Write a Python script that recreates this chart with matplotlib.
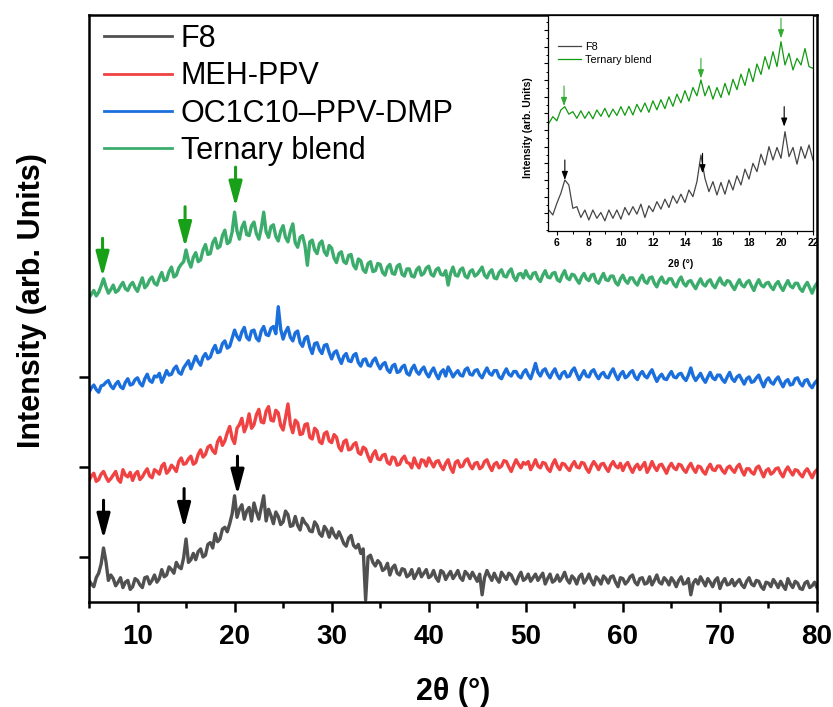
import numpy as np
import matplotlib
matplotlib.use('Agg')
import matplotlib.pyplot as plt
from matplotlib.ticker import MultipleLocator

plt.rcParams['font.family'] = ['Liberation Sans', 'DejaVu Sans']

# main panel: 2theta grid (0.25 deg steps), one row = 5 deg
two_theta = np.arange(5.0, 80.1, 0.25)

f8 = [74, 70, 67, 77, 82, 92, 110, 95, 74, 80, 76, 68, 72, 77, 66, 72, 74, 64, 67, 76,
      74, 69, 66, 77, 78, 70, 74, 80, 72, 76, 86, 78, 80, 89, 86, 82, 94, 89, 87, 99,
      120, 94, 97, 104, 97, 106, 109, 100, 102, 114, 116, 110, 126, 117, 120, 131, 133, 128, 137, 148,
      168, 144, 153, 158, 142, 151, 155, 140, 160, 150, 142, 155, 168, 140, 153, 146, 137, 150, 145, 136,
      139, 151, 147, 134, 135, 145, 135, 130, 143, 138, 135, 129, 128, 139, 135, 126, 123, 134, 130, 122,
      132, 125, 121, 128, 122, 115, 112, 121, 124, 113, 110, 114, 104, 109, 52, 100, 102, 94, 90, 96,
      93, 85, 87, 93, 80, 88, 91, 82, 80, 87, 86, 78, 80, 86, 76, 81, 87, 78, 82, 86,
      77, 79, 85, 77, 73, 85, 83, 75, 80, 84, 76, 80, 85, 77, 74, 84, 81, 76, 83, 78,
      73, 81, 58, 77, 85, 79, 74, 82, 76, 72, 83, 79, 75, 82, 80, 74, 70, 78, 83, 74,
      76, 81, 73, 77, 81, 74, 78, 82, 70, 76, 81, 72, 74, 80, 73, 77, 83, 75, 71, 79,
      76, 70, 78, 81, 71, 75, 81, 74, 69, 78, 75, 70, 79, 76, 71, 78, 79, 72, 67, 77,
      76, 70, 73, 78, 80, 72, 69, 76, 77, 70, 71, 78, 69, 74, 80, 72, 70, 77, 74, 69,
      77, 73, 67, 74, 78, 70, 71, 76, 58, 71, 75, 70, 78, 73, 68, 76, 72, 67, 74, 77,
      65, 72, 76, 69, 70, 75, 68, 72, 75, 69, 66, 73, 77, 70, 68, 74, 73, 67, 64, 72,
      71, 67, 75, 71, 66, 73, 68, 64, 76, 70, 66, 73, 71, 65, 64, 71, 73, 66, 68, 72,
      66]

meh_ppv = [185, 190, 193, 184, 186, 192, 195, 189, 184, 187, 191, 195, 186, 183, 197, 191, 189, 194, 185, 192,
           195, 186, 189, 194, 198, 190, 188, 197, 195, 192, 201, 204, 193, 196, 202, 199, 195, 206, 210, 203,
           204, 209, 212, 203, 205, 214, 219, 211, 214, 222, 224, 218, 215, 228, 233, 224, 229, 238, 245, 232,
           226, 243, 247, 254, 239, 246, 259, 243, 247, 258, 264, 250, 249, 262, 267, 252, 251, 263, 260, 246,
           241, 255, 270, 247, 238, 252, 249, 236, 237, 247, 248, 233, 231, 243, 240, 228, 226, 237, 239, 229,
           227, 236, 233, 222, 218, 228, 230, 219, 220, 225, 227, 216, 214, 222, 220, 212, 206, 214, 218, 209,
           208, 213, 214, 205, 203, 211, 210, 202, 203, 209, 212, 205, 204, 199, 210, 203, 199, 208, 207, 201,
           210, 205, 200, 206, 207, 201, 197, 204, 208, 199, 194, 205, 207, 200, 201, 207, 209, 202, 198, 204,
           205, 198, 200, 206, 208, 201, 196, 203, 205, 199, 201, 207, 206, 200, 195, 202, 208, 203, 199, 205,
           203, 206, 197, 202, 208, 201, 199, 205, 204, 198, 195, 203, 208, 201, 197, 204, 203, 199, 196, 202,
           206, 200, 199, 205, 204, 198, 194, 201, 206, 202, 197, 203, 204, 199, 195, 202, 206, 201, 199, 204,
           196, 202, 205, 199, 194, 200, 203, 197, 201, 205, 194, 199, 206, 200, 196, 202, 203, 198, 193, 200,
           204, 199, 197, 203, 202, 197, 194, 200, 204, 198, 194, 201, 200, 195, 192, 199, 203, 197, 196, 201,
           201, 196, 193, 199, 201, 197, 194, 200, 203, 196, 191, 198, 198, 194, 192, 199, 201, 195, 189, 196,
           198, 192, 194, 198, 199, 193, 189, 196, 200, 195, 191, 197, 196, 192, 189, 195, 198, 193, 188, 194,
           197]

oc1c10 = [283, 288, 291, 286, 283, 290, 291, 294, 296, 290, 287, 292, 295, 289, 287, 294, 298, 291, 292, 297,
          299, 293, 290, 298, 303, 296, 294, 301, 300, 304, 294, 300, 307, 302, 303, 309, 312, 305, 303, 310,
          314, 318, 309, 316, 323, 317, 313, 322, 326, 320, 322, 330, 335, 327, 328, 337, 340, 332, 334, 343,
          352, 345, 341, 350, 355, 344, 341, 351, 352, 343, 340, 351, 356, 347, 346, 354, 356, 348, 378, 353,
          342, 350, 355, 344, 340, 349, 351, 338, 334, 343, 345, 333, 326, 337, 338, 330, 326, 335, 336, 327,
          320, 327, 329, 321, 315, 323, 326, 318, 317, 324, 326, 316, 312, 319, 320, 313, 312, 318, 321, 314,
          309, 314, 316, 308, 305, 312, 314, 305, 306, 311, 313, 304, 302, 309, 313, 306, 303, 308, 311, 304,
          300, 306, 310, 303, 298, 305, 308, 301, 311, 306, 300, 304, 307, 302, 301, 308, 310, 303, 302, 307,
          308, 302, 299, 305, 310, 304, 302, 307, 307, 300, 298, 304, 309, 303, 301, 306, 306, 301, 299, 305,
          308, 302, 298, 306, 315, 305, 301, 307, 309, 303, 299, 305, 309, 302, 298, 304, 306, 300, 301, 307,
          310, 303, 297, 302, 307, 301, 300, 306, 308, 302, 298, 303, 305, 300, 299, 305, 309, 302, 297, 303,
          306, 299, 301, 305, 307, 300, 297, 303, 306, 301, 299, 304, 308, 301, 295, 300, 303, 298, 297, 302,
          306, 300, 299, 303, 304, 299, 296, 302, 310, 301, 296, 300, 304, 298, 294, 300, 305, 299, 297, 302,
          302, 297, 294, 300, 305, 298, 295, 300, 302, 297, 292, 298, 300, 294, 295, 299, 302, 295, 289, 296,
          299, 294, 292, 297, 300, 294, 289, 295, 297, 291, 292, 298, 299, 293, 290, 296, 297, 291, 288, 293,
          296]

ternary = [388, 392, 396, 390, 394, 401, 409, 400, 393, 397, 402, 394, 396, 401, 405, 398, 396, 402, 405, 399,
           395, 403, 410, 399, 402, 408, 411, 404, 402, 410, 416, 407, 408, 417, 422, 411, 413, 421, 425, 428,
           441, 429, 422, 433, 438, 428, 430, 441, 447, 436, 437, 449, 454, 443, 445, 457, 463, 448, 450, 461,
           483, 462, 453, 466, 472, 458, 457, 468, 472, 459, 453, 465, 483, 461, 455, 467, 469, 456, 451, 462,
           468, 455, 450, 462, 470, 449, 444, 455, 457, 446, 424, 450, 452, 441, 437, 448, 451, 439, 435, 446,
           443, 432, 427, 437, 439, 428, 426, 435, 436, 424, 420, 431, 429, 419, 416, 426, 428, 417, 418, 426,
           425, 416, 413, 422, 425, 415, 414, 423, 425, 414, 412, 420, 420, 412, 411, 419, 422, 413, 415, 421,
           423, 414, 412, 419, 421, 414, 413, 418, 402, 415, 422, 413, 412, 419, 421, 412, 410, 417, 419, 412,
           414, 418, 422, 413, 410, 416, 419, 410, 409, 416, 419, 412, 411, 417, 420, 411, 407, 414, 415, 410,
           418, 412, 409, 415, 416, 409, 406, 413, 418, 411, 410, 415, 416, 408, 406, 413, 418, 410, 408, 414,
           413, 408, 404, 411, 415, 409, 407, 413, 414, 406, 404, 410, 415, 408, 407, 412, 412, 405, 402, 409,
           413, 407, 404, 410, 410, 405, 402, 409, 413, 406, 404, 410, 411, 404, 400, 407, 411, 405, 404, 409,
           409, 403, 400, 407, 411, 404, 401, 406, 407, 402, 398, 404, 409, 403, 401, 406, 408, 402, 399, 405,
           410, 404, 402, 407, 406, 401, 397, 403, 408, 402, 400, 405, 407, 401, 396, 403, 408, 402, 400, 404,
           405, 400, 397, 403, 406, 400, 396, 402, 407, 401, 399, 404, 404, 398, 395, 401, 405, 399, 393, 400,
           404]

# peak markers (position, arrow top, arrow tip)
f8_peaks = [6.5, 14.8, 20.3]
f8_arrow_top = [163, 176, 212]
f8_arrow_tip = [120, 132, 169]
blend_peaks = [6.4, 14.9, 20.1]
blend_arrow_top = [454, 489, 533]
blend_arrow_tip = [411, 444, 489]

# inset: 0.25 deg steps, 5.5-22 deg
inset_theta = np.arange(5.5, 22.1, 0.25)

inset_f8 = [0.2, -0.1, 0.6, 1.2, 2.0, 1.7, 0.3, 0.4, -0.25, 0.2,
            -0.4, 0.2, -0.3, 0.05, -0.45, 0.2, -0.3, 0.2, -0.35, 0.35,
            -0.1, 0.4, -0.05, 0.55, -0.25, 0.45, 0.1, 0.7, 0.25, 0.85,
            0.35, 1.05, 0.6, 1.15, 0.65, 1.4, 1.0, 1.9, 3.5, 2.1,
            1.3, 1.9, 1.1, 1.85, 1.15, 2.0, 1.4, 2.25, 1.7, 2.65,
            2.05, 3.0, 2.5, 3.55, 2.9, 4.0, 3.2, 3.95, 3.3, 4.9,
            3.4, 3.95, 2.95, 4.0, 3.3, 4.1, 3.2]

inset_blend = [5.4, 5.8, 5.55, 6.2, 6.4, 5.95, 6.1, 5.7, 6.15, 5.7,
               6.1, 5.67, 6.2, 5.82, 6.3, 5.77, 6.25, 5.87, 6.4, 5.88,
               6.42, 5.9, 6.54, 6.08, 6.62, 6.06, 6.75, 6.21, 6.82, 6.28,
               6.99, 6.42, 7.15, 6.63, 7.36, 6.73, 7.55, 7.05, 8.0, 7.05,
               7.65, 6.85, 7.55, 6.95, 7.8, 7.1, 8.04, 7.42, 8.35, 7.67,
               8.69, 7.9, 8.96, 8.33, 9.4, 8.65, 9.7, 8.8, 10.3, 8.9,
               9.6, 8.6, 9.3, 8.9, 9.89, 8.8, 8.7]

inset_f8_peaks = [6.5, 15.1, 20.2]
inset_f8_top = [3.2, 3.6, 6.4]
inset_f8_tip = [2.0, 2.4, 5.2]
inset_blend_peaks = [6.45, 15.0, 20.0]
inset_blend_top = [7.64, 9.3, 11.7]
inset_blend_tip = [6.44, 8.1, 10.5]


fig = plt.figure(figsize=(8.33, 7.07), dpi=100)
ax = fig.add_axes([0.1068, 0.1485, 0.8740, 0.8303])

ax.plot(two_theta, f8, color='#505050', lw=2.4, label='F8')
ax.plot(two_theta, meh_ppv, color='#f04242', lw=2.4, label='MEH-PPV')
ax.plot(two_theta, oc1c10, color='#1b6fdc', lw=2.4, label='OC1C10\u2013PPV-DMP')
ax.plot(two_theta, ternary, color='#3bac6c', lw=2.4, label='Ternary blend')

for x, top, tip in zip(f8_peaks, f8_arrow_top, f8_arrow_tip):
    ax.annotate('', xy=(x, tip), xytext=(x, top),
                arrowprops=dict(arrowstyle='-|>,head_length=0.75,head_width=0.2',
                                color='black', lw=2.2, mutation_scale=20,
                                shrinkA=0, shrinkB=0))
for x, top, tip in zip(blend_peaks, blend_arrow_top, blend_arrow_tip):
    ax.annotate('', xy=(x, tip), xytext=(x, top),
                arrowprops=dict(arrowstyle='-|>,head_length=0.75,head_width=0.2',
                                color='#18a018', lw=2.2, mutation_scale=20,
                                shrinkA=0, shrinkB=0))

ax.set_xlim(5, 80)
ax.set_ylim(50, 702)
ax.set_xticks(range(10, 81, 10))
ax.xaxis.set_minor_locator(MultipleLocator(5))
ax.set_yticks([100, 200, 300])
ax.set_yticklabels([])
ax.tick_params(which='major', length=7, width=1.8, labelsize=20, pad=9)
ax.tick_params(which='minor', length=4, width=1.8)
for lbl in ax.get_xticklabels():
    lbl.set_fontweight('bold')
for sp in ax.spines.values():
    sp.set_linewidth(1.8)

ax.set_xlabel('2θ (°)', fontsize=22, fontweight='bold')
ax.xaxis.set_label_coords(0.5, -0.128)
ax.set_ylabel('Intensity (arb. Units)', fontsize=22, fontweight='bold')
ax.yaxis.set_label_coords(-0.058, 0.514)

leg = ax.legend(loc='upper left', bbox_to_anchor=(-0.004, 1.016), frameon=False,
                fontsize=22, handlelength=2.2, handletextpad=0.3,
                labelspacing=0.24, borderaxespad=0.2)
for line in leg.get_lines():
    line.set_linewidth(2)

# inset
axin = fig.add_axes([0.6579, 0.6733, 0.3181, 0.3055])
axin.plot(inset_theta, inset_f8, color='#454545', lw=0.9, label='F8')
axin.plot(inset_theta, inset_blend, color='#129a12', lw=0.9, label='Ternary blend')

for x, top, tip in zip(inset_f8_peaks, inset_f8_top, inset_f8_tip):
    axin.annotate('', xy=(x, tip), xytext=(x, top),
                  arrowprops=dict(arrowstyle='-|>,head_length=0.5,head_width=0.18',
                                  color='black', lw=0.8, mutation_scale=10,
                                  shrinkA=0, shrinkB=0))
for x, top, tip in zip(inset_blend_peaks, inset_blend_top, inset_blend_tip):
    axin.annotate('', xy=(x, tip), xytext=(x, top),
                  arrowprops=dict(arrowstyle='-|>,head_length=0.5,head_width=0.18',
                                  color='#33aa33', lw=0.8, mutation_scale=10,
                                  shrinkA=0, shrinkB=0))

axin.set_xlim(5.45, 22)
axin.set_ylim(-1.06, 11.9)
axin.set_xticks(range(6, 23, 2))
axin.xaxis.set_minor_locator(MultipleLocator(1))
axin.set_yticks(range(0, 12))
axin.yaxis.set_minor_locator(MultipleLocator(0.5))
axin.set_yticklabels([])
axin.tick_params(which='major', length=3, width=0.8, labelsize=7.5, pad=2)
axin.tick_params(which='minor', length=1.8, width=0.7)
for lbl in axin.get_xticklabels():
    lbl.set_fontweight('bold')
for sp in axin.spines.values():
    sp.set_linewidth(0.9)
axin.set_xlabel('2θ (°)', fontsize=7.5, fontweight='bold')
axin.xaxis.set_label_coords(0.5, -0.13)
axin.set_ylabel('Intensity (arb. Units)', fontsize=7.5, fontweight='bold')
axin.yaxis.set_label_coords(-0.057, 0.48)
axin.legend(loc='upper left', bbox_to_anchor=(0.02, 0.895), frameon=False,
            fontsize=7.8, handlelength=2.2, handletextpad=0.35,
            labelspacing=0.25, borderaxespad=0)

fig.savefig('out.png', dpi=100)
